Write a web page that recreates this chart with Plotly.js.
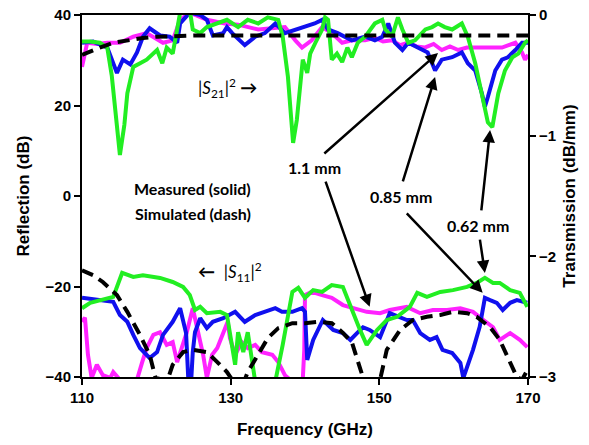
<!DOCTYPE html>
<html>
<head>
<meta charset="utf-8">
<script src="https://cdn.plot.ly/plotly-3.0.1.min.js"></script>
<style>html,body{margin:0;padding:0;background:#fff;}#chart{width:589px;height:445px;}</style>
</head>
<body>
<div id="chart"></div>
<script>
// ---- Transmission |S21|^2 (dB/mm, right axis) ----
var s21GreenX = [110.0,111.1,112.4,113.4,114.0,114.6,115.1,115.7,116.1,116.9,117.8,118.7,120.1,120.8,121.4,122.2,122.8,123.2,123.9,124.5,124.9,125.9,126.8,128.2,129.5,131.0,132.3,133.7,135.0,136.4,137.0,137.7,138.4,138.9,139.3,139.7,140.3,140.7,141.4,142.3,142.7,143.1,143.6,144.3,145.0,145.7,146.3,147.1,148.1,149.0,149.4,150.4,150.8,151.7,152.5,153.1,153.9,154.8,156.2,157.1,157.9,158.8,159.8,161.1,161.9,162.9,163.8,164.6,165.2,166.0,166.9,167.9,168.7,169.6,170.0];
var s21GreenY = [-0.22,-0.22,-0.23,-0.27,-0.50,-0.87,-1.16,-0.91,-0.65,-0.43,-0.40,-0.37,-0.29,-0.40,-0.27,-0.32,-0.12,0.02,0.08,0.04,-0.12,-0.15,-0.10,-0.07,-0.04,-0.10,-0.04,-0.07,-0.02,-0.04,-0.18,-0.51,-1.06,-0.87,-0.65,-0.37,-0.48,-0.32,-0.23,-0.12,-0.02,-0.04,-0.37,-0.32,-0.39,-0.27,-0.35,-0.23,-0.18,-0.10,-0.07,-0.04,-0.12,-0.18,-0.02,-0.12,-0.23,-0.21,-0.12,-0.10,-0.07,-0.10,-0.12,-0.07,-0.18,-0.40,-0.65,-0.89,-0.93,-0.65,-0.46,-0.35,-0.32,-0.23,-0.21];

var s21BlueX = [110.0,111.5,113.4,114.7,115.5,116.5,117.4,118.2,119.1,120.5,121.8,122.8,123.2,124.5,125.9,126.8,127.6,129.0,129.5,130.2,131.9,133.3,134.6,136.0,137.3,138.7,140.0,141.3,142.3,143.1,144.4,146.3,148.1,149.4,150.4,151.2,152.1,153.1,153.9,155.2,156.5,157.5,158.4,159.8,161.1,161.9,162.9,163.8,164.2,164.6,165.6,166.5,167.3,168.3,169.2,170.0];
var s21BlueY = [-0.23,-0.22,-0.27,-0.48,-0.37,-0.41,-0.31,-0.18,-0.11,-0.17,-0.18,-0.23,-0.07,0.02,0.00,-0.04,-0.17,-0.15,-0.10,-0.15,-0.25,-0.18,-0.15,-0.07,-0.15,-0.12,-0.10,-0.07,-0.04,-0.12,-0.15,-0.21,-0.18,-0.21,-0.18,-0.07,-0.23,-0.29,-0.23,-0.27,-0.31,-0.46,-0.37,-0.35,-0.31,-0.40,-0.46,-0.65,-0.76,-0.68,-0.46,-0.37,-0.35,-0.29,-0.23,-0.23];

var s21MagentaX = [110.0,110.4,110.7,112.0,113.4,115.1,116.9,118.7,120.9,122.2,123.2,124.5,126.8,129.2,131.0,133.7,137.3,138.7,139.6,140.9,142.3,143.6,145.0,146.3,148.1,149.4,150.5,151.7,152.8,153.9,155.0,156.1,157.3,158.4,159.5,160.6,161.8,162.9,164.6,166.5,168.3,169.2,169.6,170.0];
var s21MagentaY = [-0.43,-0.29,-0.23,-0.24,-0.23,-0.23,-0.18,-0.15,-0.23,-0.21,-0.04,0.02,-0.04,-0.07,-0.08,-0.12,-0.10,-0.21,-0.27,-0.21,-0.10,-0.15,-0.23,-0.21,-0.21,-0.19,-0.22,-0.21,-0.25,-0.23,-0.26,-0.27,-0.24,-0.29,-0.26,-0.29,-0.27,-0.27,-0.27,-0.27,-0.23,-0.31,-0.37,-0.33];

var s21SimX = [110.0,110.7,112.4,114.2,116.1,118.2,120.1,123.2,125.0,140.0,155.0,170.0];
var s21SimY = [-0.33,-0.31,-0.27,-0.23,-0.21,-0.19,-0.18,-0.17,-0.17,-0.17,-0.17,-0.17];

// ---- Reflection |S11|^2 (dB, left axis) ----
var s11GreenX = [110.0,111.1,114.2,114.7,115.4,116.9,118.2,120.5,122.2,123.6,124.5,125.2,125.9,126.8,128.6,129.5,129.9,130.6,131.0,131.7,132.3,133.3,136.0,137.0,138.3,139.1,140.0,141.1,142.3,143.6,145.1,146.1,147.4,148.3,149.7,151.0,152.4,154.1,155.1,156.4,158.2,159.9,161.8,163.1,164.2,165.3,166.2,167.6,168.9,169.9];
var s11GreenY = [-24.8,-23.6,-22.3,-20.3,-17.0,-17.9,-17.5,-18.1,-19.0,-20.1,-21.9,-25.2,-24.5,-25.9,-25.6,-26.3,-30.1,-37.3,-30.1,-34.5,-30.1,-41,-41,-32.9,-21.2,-20.3,-22.5,-20.8,-21.2,-19.7,-20.1,-24.5,-29.6,-32.9,-29.6,-27.4,-26.7,-24.5,-21.4,-22.3,-21.2,-20.8,-20.1,-19.2,-18.1,-19.2,-19.2,-20.8,-21.4,-24.5];

var s11BlueX = [110.0,112.0,114.2,115.1,116.1,116.9,117.8,119.1,120.1,120.9,122.2,123.2,123.6,124.0,124.3,124.7,124.9,125.2,125.9,126.8,127.6,129.0,130.6,131.9,133.3,134.6,136.0,136.9,138.3,139.6,140.0,140.3,141.1,142.4,143.8,145.1,146.1,147.0,147.8,148.7,150.1,151.4,152.8,153.7,154.5,155.5,156.8,157.7,158.5,159.8,160.9,161.3,161.8,162.6,163.5,164.2,164.9,165.8,166.6,167.6,168.5,169.9];
var s11BlueY = [-22.5,-23.0,-23.4,-26.3,-27.8,-30.7,-33.6,-35.8,-34.5,-30.7,-27.8,-24.8,-27.8,-30.3,-40.5,-40.5,-34.5,-30.1,-27.0,-29.2,-27.8,-27.0,-25.6,-27.8,-26.3,-25.6,-24.8,-25.6,-25.6,-24.8,-25.6,-36.2,-31.8,-27.4,-29.6,-30.3,-31.8,-30.3,-29.0,-29.6,-31.2,-25.9,-26.7,-27.4,-27.4,-30.3,-31.8,-31.2,-34.0,-34.7,-36.9,-40.2,-37.8,-34.0,-28.9,-22.5,-23.0,-23.6,-25.2,-23.6,-23.0,-23.6];

var s11MagentaX = [110.0,110.4,110.8,111.3,112.0,112.8,113.8,114.2,115.1,117.4,118.1,118.7,119.6,120.5,121.4,122.2,122.8,123.2,124.1,124.9,125.6,126.3,126.8,127.5,128.2,129.0,129.6,129.9,130.6,131.5,132.3,133.3,134.2,135.6,136.4,137.3,138.0,139.7,139.9,140.0,140.9,142.3,143.6,145.1,146.5,148.3,150.1,151.4,153.7,155.5,157.2,159.1,160.9,162.6,164.0,165.3,166.2,167.6,168.9,169.9];
var s11MagentaY = [-27.8,-26.9,-35.1,-40.2,-37.3,-39.6,-40.2,-38.9,-40.6,-40.6,-36.7,-33.6,-30.7,-30.1,-32.9,-32.3,-36.7,-34.5,-30.1,-24.8,-30.1,-35.1,-40.2,-35.1,-33.6,-30.1,-27.8,-31.4,-35.1,-32.3,-33.6,-32.9,-34.5,-35.1,-36.7,-39.6,-40.6,-40.6,-34.0,-21.9,-21.2,-21.9,-22.5,-24.1,-24.8,-25.6,-25.9,-25.2,-24.5,-25.9,-25.2,-25.2,-24.8,-25.6,-27.4,-29.0,-31.8,-30.3,-31.8,-33.4];

var s11SimX = [110.0,111.5,112.8,114.7,116.1,117.8,119.1,119.9,120.9,121.6,122.2,123.6,124.9,126.8,128.2,129.5,130.2,131.9,132.3,133.7,135.0,136.4,138.3,140.0,141.8,143.6,145.0,146.3,147.4,147.9,150.1,151.0,152.8,154.5,156.4,158.2,159.9,161.8,163.1,164.9,166.2,167.6,168.5,169.2,169.9];
var s11SimY = [-16.4,-17.5,-19.0,-21.9,-25.6,-30.7,-35.1,-40.2,-40.6,-40.2,-37.3,-34.5,-34.0,-34.5,-36.7,-38.9,-40.6,-40.6,-38.9,-35.1,-31.4,-29.2,-28.1,-28.1,-27.8,-28.1,-30.1,-32.3,-37.8,-40.6,-40.6,-34.0,-29.6,-27.4,-26.7,-26.3,-25.6,-25.9,-26.7,-29.0,-31.8,-36.9,-40.0,-40.6,-38.5];

var xTicks = [110,130,150,170];
var yTicks = [-40,-20,0,20,40];
var y2Ticks = [-3,-2,-1,0];

var GREEN = '#22ee22', MAGENTA = '#ff22ff', BLUE = '#1010ee';
function line(x, y, color, axis, dashed) {
  return {x: x, y: y, yaxis: axis, type: 'scatter', mode: 'lines', hoverinfo: 'skip', showlegend: false,
          line: {color: color, width: 4, dash: dashed ? '12px,7px' : 'solid'}};
}
var data = [
  line(s11MagentaX, s11MagentaY, MAGENTA, 'y'),
  line(s11BlueX, s11BlueY, BLUE, 'y'),
  line(s11GreenX, s11GreenY, GREEN, 'y'),
  line(s11SimX, s11SimY, '#000', 'y', true),
  line(s21MagentaX, s21MagentaY, MAGENTA, 'y2'),
  line(s21BlueX, s21BlueY, BLUE, 'y2'),
  line(s21GreenX, s21GreenY, GREEN, 'y2'),
  line(s21SimX, s21SimY, '#000', 'y2', true)
];

var tickFont = {family: 'Liberation Sans, Arial, sans-serif', size: 15, color: '#000', weight: 'bold'};
var titleFont = {family: 'Liberation Sans, Arial, sans-serif', size: 17, color: '#000', weight: 'bold'};
var lblFont = {family: 'Lato, Open Sans, sans-serif', size: 16, color: '#000', weight: 'bold'};
var sFont = {family: 'Lato, Open Sans, sans-serif', size: 17, color: '#000'};

function txt(t, x, y, f) {
  return {text: t, x: x, y: y, xref: 'x', yref: 'y', showarrow: false, font: f, xanchor: 'center', yanchor: 'middle'};
}
function arr(xh, yh, xt, yt) {
  return {text: '', x: xh, y: yh, ax: xt, ay: yt, xref: 'x', yref: 'y', axref: 'x', ayref: 'y',
          showarrow: true, arrowhead: 2, arrowsize: 1, arrowwidth: 2.5, arrowcolor: '#000', standoff: 0, startstandoff: 0};
}

var layout = {
  width: 589, height: 445,
  margin: {l: 82, r: 61, t: 15, b: 68},
  paper_bgcolor: '#fff', plot_bgcolor: '#fff',
  showlegend: false,
  xaxis: {range: [110, 170], tickvals: xTicks, ticks: 'outside', ticklen: 6, tickwidth: 2, tickcolor: '#000',
          showline: true, linewidth: 2, linecolor: '#000', mirror: true, showgrid: false, zeroline: false,
          tickfont: tickFont, title: {text: 'Frequency (GHz)', font: titleFont, standoff: 18}},
  yaxis: {range: [-40, 40], tickvals: yTicks, ticks: 'outside', ticklen: 6, tickwidth: 2, tickcolor: '#000',
          showline: true, linewidth: 2, linecolor: '#000', showgrid: false, zeroline: false,
          tickfont: tickFont, title: {text: 'Reflection (dB)', font: titleFont, standoff: 12}},
  yaxis2: {range: [-3, 0], tickvals: y2Ticks, overlaying: 'y', side: 'right', ticks: 'outside', ticklen: 6, tickwidth: 2, tickcolor: '#000',
          showline: true, linewidth: 2, linecolor: '#000', showgrid: false, zeroline: false,
          tickfont: tickFont, title: {text: 'Transmission (dB/mm)', font: titleFont, standoff: 8}},
  annotations: [
    txt('|<i>S</i><sub>21</sub>|<sup>2</sup> <b>\u2192</b>', 129.6, 23.9, sFont),
    txt('<b>\u2190</b>  |<i>S</i><sub>11</sub>|<sup>2</sup>', 129.9, -16.8, sFont),
    txt('Measured (solid)', 124.9, 1.7, lblFont),
    txt('Simulated (dash)', 124.9, -3.8, lblFont),
    txt('1.1 mm', 141.3, 6.2, lblFont),
    txt('0.85 mm', 152.9, -0.2, lblFont),
    txt('0.62 mm', 163.3, -6.6, lblFont),
    arr(157.9, 31.6, 142.4, 9.1),
    arr(157.5, 26.3, 153.1, 2.9),
    arr(164.9, 14.6, 163.7, -3.5),
    arr(148.7, -24.5, 142.7, 3.5),
    arr(163.9, -21.4, 153.5, -3.5),
    arr(164.2, -17.0, 163.5, -9.3)
  ]
};
Plotly.newPlot('chart', data, layout, {staticPlot: true, displayModeBar: false});
</script>
</body>
</html>
